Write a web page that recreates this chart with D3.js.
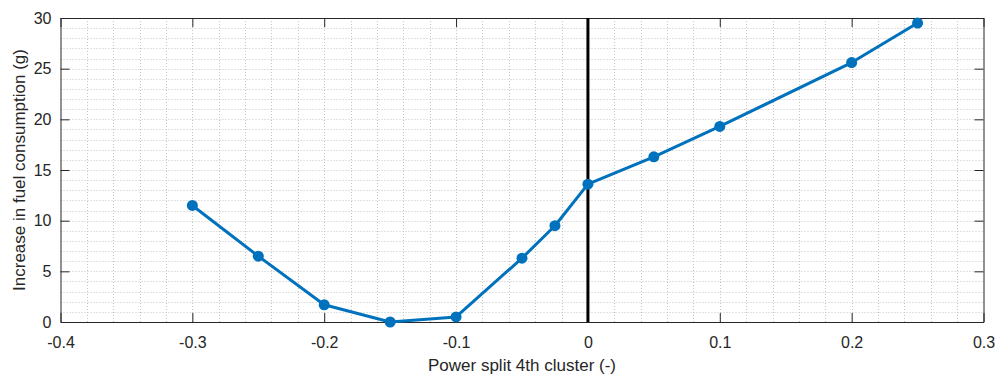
<!DOCTYPE html>
<html>
<head>
<meta charset="utf-8">
<script src="https://cdn.jsdelivr.net/npm/d3@7"></script>
<style>
  body { margin: 0; background: #fff; }
  text { font-family: "Liberation Sans", Arial, sans-serif; fill: #262626; }
</style>
</head>
<body>
<div id="container"></div>
<script>
// Data
var powerSplit = [-0.3, -0.25, -0.2, -0.15, -0.1, -0.05, -0.025, 0, 0.05, 0.1, 0.2, 0.25];
var fuelIncrease = [11.5, 6.5, 1.7, 0, 0.5, 6.3, 9.5, 13.6, 16.3, 19.3, 25.6, 29.5];
var xTicks = [-0.4, -0.3, -0.2, -0.1, 0, 0.1, 0.2, 0.3];
var yTicks = [0, 5, 10, 15, 20, 25, 30];

var width = 997,
    height = 376;
var plotLeft = 60.5, plotRight = 983.5, plotTop = 18, plotBottom = 322;

var svg = d3.select("#container")
    .append("svg")
    .attr("width", width)
    .attr("height", height);

var xScale = d3.scaleLinear().domain([-0.4, 0.3]).range([plotLeft, plotRight]);
var yScale = d3.scaleLinear().domain([0, 30]).range([plotBottom, plotTop]);

// Dotted grid (major and minor)
var xGrid = d3.range(-0.4, 0.3001, 0.02).map(function(d) { return +d.toFixed(2); });
var yGrid = d3.range(0, 30.001, 1);
var grid = svg.append("g").attr("stroke", "#c4c4c4").attr("stroke-width", 1).attr("stroke-dasharray", "1,2");
grid.selectAll(".vx")
    .data(xGrid.slice(1, -1))
    .enter()
    .append("line")
    .attr("x1", function(d) { return Math.round(xScale(d)) + 0.5; })
    .attr("x2", function(d) { return Math.round(xScale(d)) + 0.5; })
    .attr("y1", plotTop)
    .attr("y2", plotBottom);
grid.selectAll(".hy")
    .data(yGrid.slice(1, -1))
    .enter()
    .append("line")
    .attr("y1", function(d) { return Math.round(yScale(d)) + 0.5; })
    .attr("y2", function(d) { return Math.round(yScale(d)) + 0.5; })
    .attr("x1", plotLeft)
    .attr("x2", plotRight);

// Axes with inward ticks on all four sides
var fmt = function(d) { return String(d); };
var xAxisB = d3.axisBottom(xScale).tickValues(xTicks).tickSizeInner(-9).tickSizeOuter(0).tickPadding(15).tickFormat(fmt);
var xAxisT = d3.axisTop(xScale).tickValues(xTicks).tickSizeInner(-9).tickSizeOuter(0).tickFormat("");
var yAxisL = d3.axisLeft(yScale).tickValues(yTicks).tickSizeInner(-9).tickSizeOuter(0).tickPadding(9).tickFormat(fmt);
var yAxisR = d3.axisRight(yScale).tickValues(yTicks).tickSizeInner(-9).tickSizeOuter(0).tickFormat("");

var axes = [
    svg.append("g").attr("transform", "translate(0," + plotBottom + ")").call(xAxisB),
    svg.append("g").attr("transform", "translate(0," + plotTop + ")").call(xAxisT),
    svg.append("g").attr("transform", "translate(" + plotLeft + ",0)").call(yAxisL),
    svg.append("g").attr("transform", "translate(" + plotRight + ",0)").call(yAxisR)
];
axes.forEach(function(a) {
    a.select(".domain").attr("stroke", "#262626").attr("stroke-width", 1);
    a.selectAll(".tick line").attr("stroke", "#262626");
    a.selectAll(".tick text").attr("font-size", 16).attr("fill", "#262626")
        .attr("font-family", "'Liberation Sans', Arial, sans-serif");
});

// Black vertical line at zero
svg.append("line")
    .attr("x1", xScale(0))
    .attr("x2", xScale(0))
    .attr("y1", plotTop)
    .attr("y2", plotBottom)
    .attr("stroke", "#000")
    .attr("stroke-width", 3);

// Series line and markers
var pts = powerSplit.map(function(d, i) { return { x: d, y: fuelIncrease[i] }; });
var line = d3.line()
    .x(function(d) { return xScale(d.x); })
    .y(function(d) { return yScale(d.y); });

svg.append("path")
    .datum(pts)
    .attr("d", line)
    .attr("fill", "none")
    .attr("stroke", "#0072BD")
    .attr("stroke-width", 3)
    .attr("stroke-linejoin", "round");

svg.selectAll(".pt")
    .data(pts)
    .enter()
    .append("circle")
    .attr("class", "pt")
    .attr("cx", function(d) { return xScale(d.x); })
    .attr("cy", function(d) { return yScale(d.y); })
    .attr("r", 5.5)
    .attr("fill", "#0072BD");

// Axis labels
svg.append("text")
    .attr("x", (plotLeft + plotRight) / 2)
    .attr("y", 371)
    .attr("text-anchor", "middle")
    .attr("font-size", 17)
    .text("Power split 4th cluster (-)");
svg.append("text")
    .attr("transform", "translate(25," + (plotTop + plotBottom) / 2 + ") rotate(-90)")
    .attr("text-anchor", "middle")
    .attr("font-size", 17)
    .text("Increase in fuel consumption (g)");
</script>
</body>
</html>
